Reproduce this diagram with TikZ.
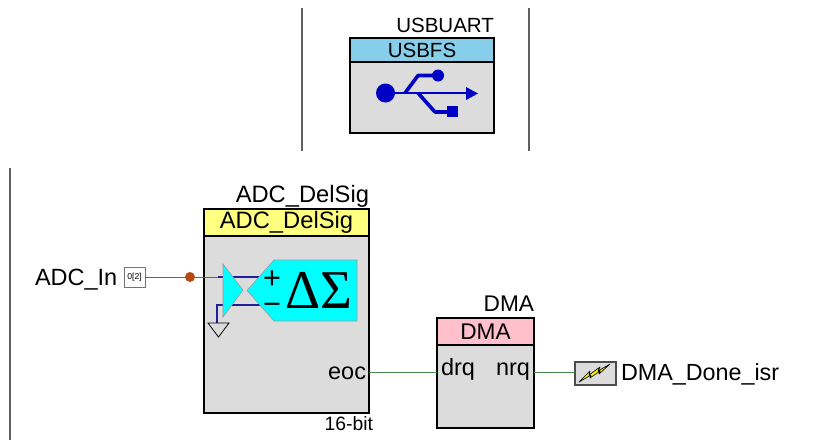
\documentclass[tikz,border=0pt]{standalone}
\usepackage{fontspec}
\setmainfont{Liberation Sans}
\newfontfamily\greekserif{Liberation Serif}
\newcommand{\ptfont}[1]{\fontsize{#1pt}{#1pt}\selectfont}
\definecolor{bodygray}{HTML}{DCDCDC}
\definecolor{usbhead}{HTML}{87CEEB}
\definecolor{adchead}{HTML}{FFFF80}
\definecolor{dmahead}{HTML}{FFC0CB}
\definecolor{usbblue}{HTML}{0000C4}
\definecolor{wireorange}{HTML}{B84A10}
\definecolor{wiregreen}{HTML}{4E8A4E}
\definecolor{wireblue}{HTML}{20209A}
\definecolor{sheetline}{HTML}{606060}
\definecolor{cyanfill}{HTML}{00FFFF}
\tikzset{
  x=0.75pt,y=-0.75pt,
  sheet/.style={draw=sheetline,line width=0.9pt},
  blockbody/.style={draw=black,line width=1.5pt,fill=bodygray,anchor=north west,inner sep=0pt,outer sep=0pt},
  blockhead/.style={draw=black,line width=1.5pt,anchor=north west,inner sep=0pt,outer sep=0pt,text=black},
  lbl/.style={inner sep=0pt,outer sep=0pt,text=black},
  orangewire/.style={draw=wireorange,line width=0.65pt},
  greenwire/.style={draw=wiregreen,line width=0.65pt},
  bluewire/.style={draw=wireblue,line width=0.8pt},
  usbstroke/.style={draw=usbblue,line width=2.7pt,line join=round},
  cyanshape/.style={fill=cyanfill,draw=black!40,line width=0.4pt},
}
\begin{document}
\begin{tikzpicture}
\useasboundingbox (0,0) rectangle (817,440);
% sheet separators
\coordinate (s1a) at (302,8); \coordinate (s1b) at (302,151);
\coordinate (s2a) at (529,8); \coordinate (s2b) at (529,151);
\coordinate (s3a) at (10,168); \coordinate (s3b) at (10,440);
\draw[sheet] (s1a) -- (s1b);
\draw[sheet] (s2a) -- (s2b);
\draw[sheet] (s3a) -- (s3b);

% USBFS block
\node[blockbody,minimum width=108pt,minimum height=71.25pt] (usb) at (350,38) {};
\node[blockhead,fill=usbhead,minimum width=108pt,minimum height=18pt,font=\ptfont{15.4}] (usbh) at (350,38) {USBFS};
\node[lbl,anchor=base east,font=\ptfont{15.4}] (usbt) at (494,32) {USBUART};
% USB icon
\fill[usbblue] (385.5,93) circle[radius=9.5];
\draw[usbstroke,line width=2.2pt] (386,93) -- (468,93);
\fill[usbblue] (466,87) -- (478,93.5) -- (466,100) -- cycle;
\draw[usbstroke] (405,93) -- (418,75.5) -- (438,75.5);
\fill[usbblue] (438,75.5) circle[radius=6];
\draw[usbstroke] (418,93) -- (435,112) -- (448,112);
\fill[usbblue] (447,106) rectangle (458,117);

% ADC block
\node[blockbody,minimum width=123.75pt,minimum height=153pt] (adc) at (204,209) {};
\node[blockhead,fill=adchead,minimum width=123.75pt,minimum height=20.25pt,font=\ptfont{17.8}] (adch) at (204,209) {ADC\_DelSig};
\node[lbl,anchor=base east,font=\ptfont{17.8}] (adct) at (369,202) {ADC\_DelSig};
\node[lbl,anchor=base east,font=\ptfont{17.6}] (eoc) at (366,379) {eoc};
\node[lbl,anchor=base east,font=\ptfont{14.5}] (bits) at (373,430) {16-bit};

% ADC symbol: wires first
\node[lbl,anchor=base west,font=\ptfont{17.6}] (adcin) at (35,285) {ADC\_In};
\node[draw=black!55,fill=white,line width=0.6pt,minimum width=15.75pt,minimum height=15pt,inner sep=0pt,outer sep=0pt,font=\ptfont{6.5}] (term) at (134.5,277) {0[2]};
\node[circle,fill=wireorange,minimum size=7.5pt,inner sep=0pt] (dot) at (190,277) {};
\coordinate (ampin) at (218,277);
\coordinate (dsplus) at (262,277);
\coordinate (ampneg) at (217,305);
\coordinate (dsminus) at (262,305);
\coordinate (gndtop) at (217,323);
\draw[orangewire] (term) -- (dot) -- (ampin);
\draw[bluewire] (ampin) -- (dsplus);
\draw[bluewire] (dsminus) -- (ampneg) -- (gndtop);
\draw[cyanshape] (223,264) -- (243,290) -- (223,317) -- cycle;
\draw[cyanshape] (247,290.5) -- (274,260) -- (357,260) -- (357,321) -- (274,321) -- cycle;
\draw[draw=black,line width=0.6pt] (208,323) -- (229,323) -- (218.5,337) -- cycle;
\node[lbl,anchor=base,font=\ptfont{23}] (plus) at (272,288) {+};
\node[lbl,anchor=base,font=\ptfont{23}] (minus) at (272,314) {\textminus};
\node[lbl,anchor=base west,font=\greekserif\ptfont{41}] (dsym) at (285,308) {ΔΣ};

% DMA block
\node[blockbody,minimum width=72.75pt,minimum height=82.5pt] (dma) at (437,318) {};
\node[blockhead,fill=dmahead,minimum width=72.75pt,minimum height=20.25pt,font=\ptfont{17}] (dmah) at (437,318) {DMA};
\node[lbl,anchor=base east,font=\ptfont{17}] (dmat) at (534,311) {DMA};
\node[lbl,anchor=base west,font=\ptfont{17.6}] (drq) at (441,375) {drq};
\node[lbl,anchor=base east,font=\ptfont{17.6}] (nrq) at (530,375) {nrq};
\coordinate (eocpin) at (369,372);
\coordinate (drqpin) at (437,372);
\coordinate (nrqpin) at (534,372);
\draw[greenwire] (eocpin) -- (drqpin);

% ISR
\node[draw=black!70,fill=bodygray,line width=0.8pt,minimum width=30.75pt,minimum height=17.25pt,inner sep=0pt,outer sep=0pt] (isr) at (595.5,373.5) {};
\draw[greenwire] (nrqpin) -- (isr.west |- nrqpin);
\draw[fill=yellow,draw=black,line width=0.5pt,line join=round]
  (579,382) -- (590,371) -- (589,375) -- (600,367) -- (598,371) -- (610,364) -- (599,374) -- (600,371) -- (590,378) -- (591,375) -- cycle;
\node[lbl,anchor=base west,font=\ptfont{17.5}] (isrl) at (621,380) {DMA\_Done\_isr};
\end{tikzpicture}
\end{document}
